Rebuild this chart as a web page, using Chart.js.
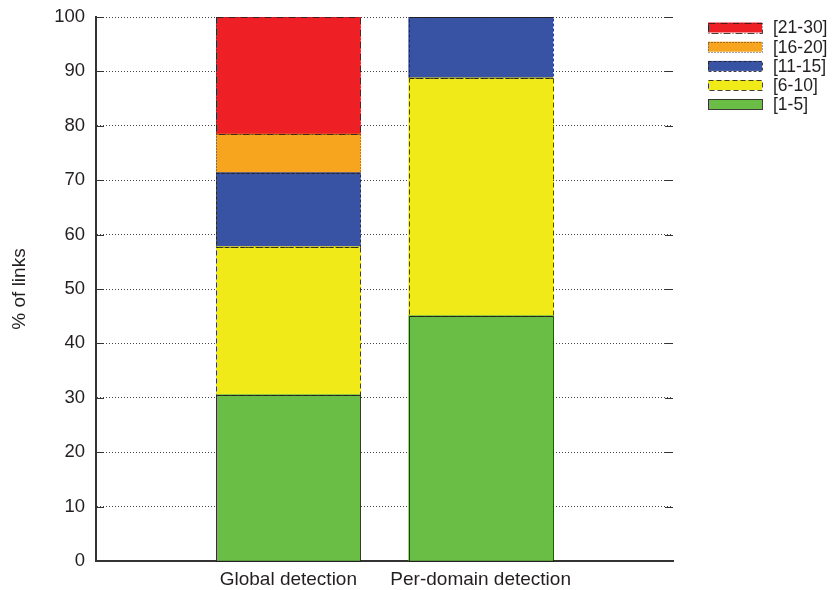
<!DOCTYPE html>
<html>
<head>
<meta charset="utf-8">
<script src="https://cdn.jsdelivr.net/npm/chart.js@4.4.1/dist/chart.umd.min.js"></script>
<style>
  html, body { margin: 0; padding: 0; background: #ffffff; }
  #wrap { width: 834px; height: 590px; }
</style>
</head>
<body>
<div id="wrap"><canvas id="c" width="834" height="590"></canvas></div>
<script>
// ---- data ----
const categories = ['', 'Global detection', 'Per-domain detection', ''];
const seriesNames = ['[1-5]', '[6-10]', '[11-15]', '[16-20]', '[21-30]'];
const range1to5   = [null, 30.6, 45.1, null];
const range6to10  = [null, 27.2, 43.7, null];
const range11to15 = [null, 13.6, 11.2, null];
const range16to20 = [null, 7.1, 0, null];
const range21to30 = [null, 21.5, 0, null];
const yTicks = [0, 10, 20, 30, 40, 50, 60, 70, 80, 90, 100];

const seriesValues = [range1to5, range6to10, range11to15, range16to20, range21to30];
const colors = ['#6abd45', '#f1ea19', '#3953a4', '#f7a51e', '#ee1f25'];
const dashes = [[], [5, 3], [3, 2], [1, 2], [7, 2, 1, 2]];
const FONT = '"Liberation Sans", Arial, Helvetica, sans-serif';
const FS_TICK = 18.5;
const FS_X = 19;
const FS_TITLE = 19;
const FS_LEG = 17.5;
const TXT = '#231f20';

const datasets = seriesNames.map((name, i) => ({
  label: name,
  data: seriesValues[i],
  backgroundColor: colors[i],
  borderWidth: 0,
  barThickness: 144,
  myDash: dashes[i]
}));

// stroke dashed borders on bar segments using element geometry from the library
const barBorders = {
  id: 'barBorders',
  afterDatasetsDraw(chart) {
    const ctx = chart.ctx;
    ctx.save();
    chart.data.datasets.forEach((ds, di) => {
      const meta = chart.getDatasetMeta(di);
      meta.data.forEach((el, idx) => {
        const v = ds.data[idx];
        if (v === null || v === undefined) return;
        const p = el.getProps(['x', 'y', 'base', 'width'], true);
        const left = p.x - p.width / 2;
        const top = Math.min(p.y, p.base);
        const h = Math.abs(p.base - p.y);
        ctx.setLineDash(ds.myDash);
        ctx.lineWidth = 1;
        ctx.strokeStyle = 'rgba(35,31,32,0.85)';
        ctx.strokeRect(Math.round(left) + 0.5, Math.round(top) + 0.5, Math.round(p.width), Math.round(h));
      });
    });
    ctx.restore();
  }
};

// inward tick marks on the left axis and mirrored on the right edge
const innerTicks = {
  id: 'innerTicks',
  afterDraw(chart) {
    const ctx = chart.ctx;
    const ys = chart.scales.y;
    const a = chart.chartArea;
    ctx.save();
    ctx.strokeStyle = '#333';
    ctx.lineWidth = 1;
    ctx.setLineDash([]);
    ys.ticks.forEach(t => {
      const py = Math.round(ys.getPixelForValue(t.value)) + 0.5;
      ctx.beginPath();
      ctx.moveTo(a.left, py); ctx.lineTo(a.left + 8, py);
      ctx.moveTo(a.right - 8, py); ctx.lineTo(a.right, py);
      ctx.stroke();
    });
    ctx.restore();
  }
};

// legend drawn at top right, reversed order
const sideLegend = {
  id: 'sideLegend',
  afterDraw(chart) {
    const ctx = chart.ctx;
    ctx.save();
    const n = chart.data.datasets.length;
    ctx.font = FS_LEG + 'px ' + FONT;
    ctx.textBaseline = 'middle';
    ctx.textAlign = 'left';
    for (let r = 0; r < n; r++) {
      const ds = chart.data.datasets[n - 1 - r];
      const cy = 27.5 + r * 19.2;
      const x0 = 708, w = 54, h = 10;
      ctx.fillStyle = ds.backgroundColor;
      ctx.fillRect(x0, cy - h / 2, w, h);
      ctx.setLineDash(ds.myDash);
      ctx.lineWidth = 1;
      ctx.strokeStyle = 'rgba(35,31,32,0.85)';
      ctx.strokeRect(x0 + 0.5, Math.round(cy - h / 2) + 0.5, w, h);
      ctx.setLineDash([]);
      ctx.fillStyle = TXT;
      ctx.fillText(ds.label, 773, cy + 1);
    }
    ctx.restore();
  }
};

new Chart(document.getElementById('c'), {
  type: 'bar',
  data: { labels: categories, datasets: datasets },
  options: {
    responsive: false,
    animation: false,
    layout: { padding: { top: 17, right: 161, left: 0, bottom: 0 } },
    plugins: { legend: { display: false }, tooltip: { enabled: false } },
    scales: {
      x: {
        stacked: true,
        offset: false,
        grid: { display: false, drawTicks: false },
        border: { display: true, color: '#333', width: 2 },
        ticks: {
          color: TXT, font: { family: FONT, size: FS_X },
          padding: 7, maxRotation: 0, autoSkip: false
        },
        afterFit(s) { s.height = 29; s.paddingLeft = 0; s.paddingRight = 0; }
      },
      y: {
        stacked: true,
        min: 0, max: 100,
        afterBuildTicks(s) { s.ticks = yTicks.map(v => ({ value: v })); },
        grid: { color: '#444', lineWidth: 1, drawTicks: false },
        border: { display: true, color: '#333', width: 2, dash: [1, 2] },
        ticks: { color: TXT, font: { family: FONT, size: FS_TICK }, padding: 11 },
        title: {
          display: true, text: '% of links', color: TXT,
          font: { family: FONT, size: FS_TITLE }, padding: { top: 8, bottom: 0 }
        },
        afterFit(s) { s.width = 96; s.paddingTop = 0; s.paddingBottom = 0; }
      }
    }
  },
  plugins: [barBorders, innerTicks, sideLegend]
});
</script>
</body>
</html>
